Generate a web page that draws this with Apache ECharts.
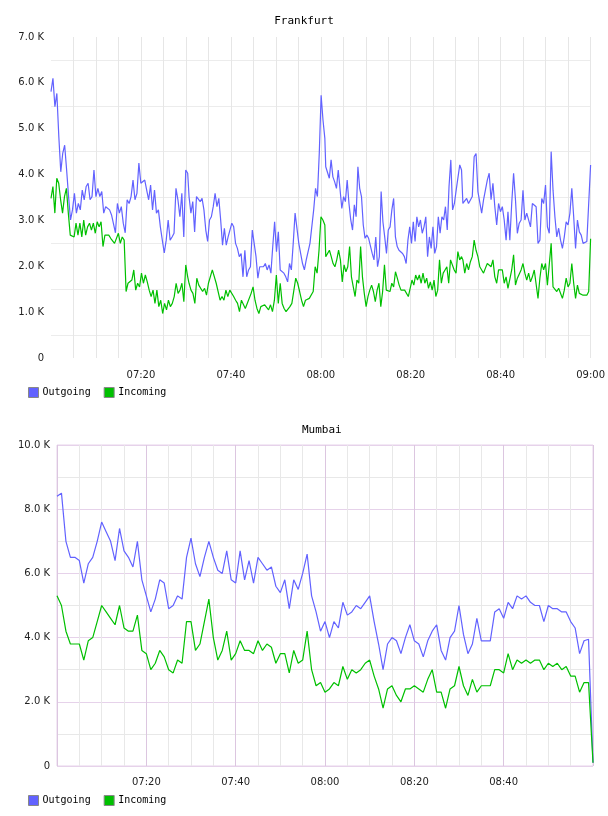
<!DOCTYPE html>
<html>
<head>
<meta charset="utf-8">
<script src="https://cdn.jsdelivr.net/npm/echarts@6/dist/echarts.min.js"></script>
<style>
    html, body { margin: 0; padding: 0; background: #fff; }
    #main { width: 608px; height: 816px; }
</style>
</head>
<body>
<div id="main"></div>
<script>
// traffic, in thousands, 07:00 - 09:00 (minutes from 07:00 on the x axis)
var seriesNames = ['Outgoing', 'Incoming'];
var spanMin = 120;

var pieceStart = [0, 30.7, 61.1, 91.6];
var pieceEnd = [30.4, 60.9, 91.3, 120];

var frankfurtOut1 = [
    5.81, 6.10, 5.48, 5.77, 4.83, 4.06, 4.46, 4.64, 4.10, 3.52, 3.01, 3.23, 3.59, 3.16, 3.37, 3.23, 3.66, 3.45, 3.74, 3.81,
    3.45, 3.52, 4.10, 3.52, 3.70, 3.52, 3.63, 3.16, 3.30, 3.30, 3.23, 3.12, 3.12, 2.73, 3.37, 3.16, 3.30, 2.94, 2.73, 3.45,
    3.37, 3.52, 3.88, 3.45, 3.59, 4.25, 3.81, 3.81, 3.88, 3.66, 3.45, 3.77, 3.23, 3.66, 3.16, 3.23, 2.86, 2.57, 2.29, 2.57,
    3.01, 2.57, 2.64, 2.72, 3.70, 3.45, 3.08, 3.59, 2.64, 4.10, 4.03
];
var frankfurtOut2 = [
    3.52, 3.16, 3.41, 2.75, 3.52, 3.55, 3.41, 3.48, 3.23, 2.79, 2.54, 3.01, 3.08, 3.30, 3.59, 3.30, 3.48, 3.01, 2.46, 2.83,
    2.46, 2.64, 2.61, 2.94, 2.86, 2.50, 2.39, 2.21, 2.28, 1.77, 2.35, 1.77, 1.92, 1.99, 2.79, 2.79, 2.21, 1.74, 1.99, 1.99,
    1.99, 2.06, 1.92, 2.03, 1.85, 2.43, 2.97, 2.32, 2.75, 1.92, 1.92, 1.85, 1.77, 1.66, 2.06, 1.92, 2.50, 3.16, 3.12, 2.50,
    2.50, 2.06, 1.92, 2.14, 2.17, 2.50, 2.50, 3.23, 3.70, 3.52, 4.46, 5.73, 5.19, 4.79
];
var frankfurtOut3 = [
    4.17, 4.17, 3.92, 4.32, 3.95, 3.84, 3.70, 4.10, 4.06, 3.26, 3.52, 3.41, 3.88, 3.37, 3.01, 2.79, 3.34, 3.08, 4.17, 3.70,
    3.52, 2.90, 2.61, 2.68, 2.61, 2.57, 2.28, 2.14, 2.64, 1.99, 2.21, 3.63, 2.97, 2.64, 2.28, 2.79, 2.86, 3.23, 3.48, 2.64,
    2.43, 2.35, 2.32, 2.28, 2.21, 2.06, 2.57, 2.86, 2.50, 2.97, 2.54, 3.08, 2.86, 3.01, 2.72, 2.86, 3.08, 2.21, 2.64, 2.39,
    2.86, 2.28, 2.43, 3.08, 2.72, 3.08, 3.01, 3.30, 2.79, 3.74, 4.32, 3.23, 3.37, 3.66, 3.70, 4.21, 4.10
];
var frankfurtOut4 = [
    3.37, 3.34, 3.48, 3.37, 3.37, 3.52, 4.39, 4.46, 3.63, 3.59, 3.16, 3.45, 3.41, 3.88, 4.03, 3.45, 3.81, 3.30, 2.90, 3.37,
    3.19, 3.30, 3.01, 2.57, 3.19, 2.57, 3.37, 4.03, 3.45, 2.72, 2.94, 3.01, 3.66, 3.01, 3.16, 3.16, 2.86, 3.37, 3.37, 3.30,
    2.50, 2.57, 3.48, 3.37, 3.77, 2.86, 2.72, 4.50, 3.66, 3.08, 2.64, 2.83, 2.57, 2.39, 2.64, 2.97, 2.90, 3.16, 3.70, 3.08,
    2.39, 3.01, 2.75, 2.68, 2.50, 2.46, 2.54, 2.54, 4.21
];

var frankfurtIn1 = [
    3.48, 3.74, 3.16, 3.92, 3.81, 3.45, 3.16, 3.52, 3.70, 3.16, 2.68, 2.72, 2.64, 2.94, 2.68, 2.94, 2.64, 3.01, 2.68, 2.86,
    2.94, 2.79, 2.94, 2.72, 2.97, 2.86, 2.97, 2.43, 2.68, 2.64, 2.68, 2.61, 2.57, 2.50, 2.46, 2.72, 2.50, 2.64, 2.57, 1.45,
    1.63, 1.59, 1.70, 1.92, 1.48, 1.63, 1.55, 1.85, 1.63, 1.81, 1.66, 1.48, 1.34, 1.48, 1.19, 1.48, 1.12, 1.26, 0.97, 1.19,
    1.05, 1.26, 1.12, 1.19, 1.34, 1.63, 1.41, 1.48, 1.63, 1.23, 2.03, 1.77
];
var frankfurtIn2 = [
    1.63, 1.48, 1.41, 1.19, 1.74, 1.59, 1.63, 1.45, 1.52, 1.37, 1.63, 1.63, 1.92, 1.92, 1.63, 1.59, 1.26, 1.34, 1.26, 1.48,
    1.34, 1.48, 1.48, 1.34, 1.26, 1.19, 1.01, 1.26, 1.30, 1.08, 1.19, 1.19, 1.41, 1.55, 1.26, 1.08, 0.97, 1.12, 1.16, 1.16,
    1.12, 1.05, 1.16, 1.01, 1.26, 1.81, 1.19, 1.63, 1.19, 1.08, 1.01, 1.05, 1.12, 1.19, 1.16, 1.74, 1.63, 1.45, 1.26, 1.12,
    1.26, 1.26, 1.30, 1.30, 1.45, 1.99, 1.85, 2.35, 3.08, 3.01, 2.90
];
var frankfurtIn3 = [
    2.21, 2.17, 2.35, 2.21, 2.06, 1.99, 2.14, 2.35, 2.14, 1.66, 2.03, 1.88, 1.99, 2.43, 1.77, 1.55, 1.34, 1.70, 1.63, 2.43,
    1.77, 1.41, 1.12, 1.34, 1.48, 1.59, 1.45, 1.23, 1.48, 1.63, 1.12, 1.45, 2.03, 1.48, 1.48, 1.45, 1.63, 1.55, 1.88, 1.74,
    1.59, 1.48, 1.52, 1.48, 1.45, 1.34, 1.34, 1.70, 1.59, 1.81, 1.70, 1.81, 1.63, 1.85, 1.63, 1.74, 1.52, 1.66, 1.48, 1.70,
    1.34, 1.48, 2.14, 1.63, 1.85, 1.92, 1.99, 1.63, 2.14, 2.17, 1.92, 1.85, 2.32, 2.14, 2.21
];
var frankfurtIn4 = [
    2.14, 1.85, 2.06, 1.92, 2.10, 2.21, 2.57, 2.35, 2.21, 1.99, 1.92, 1.85, 1.96, 2.06, 2.10, 1.99, 2.14, 1.77, 1.63, 1.92,
    1.92, 1.92, 1.63, 1.77, 1.52, 1.48, 1.92, 2.25, 1.59, 1.74, 1.70, 1.92, 2.06, 1.85, 1.70, 1.85, 1.66, 1.77, 1.92, 1.92,
    1.30, 1.74, 2.06, 1.92, 2.06, 1.59, 1.63, 2.50, 1.55, 1.52, 1.45, 1.52, 1.48, 1.30, 1.48, 1.74, 1.55, 1.63, 2.06, 1.63,
    1.30, 1.59, 1.41, 1.45, 1.37, 1.41, 1.37, 1.45, 2.60
];

// Mumbai: one sample per minute
var mumbaiOut = [
    8.4, 8.5, 7.0, 6.5, 6.5, 6.4, 5.7, 6.3, 6.5, 7.0, 7.6, 7.3, 7.0, 6.4, 7.4, 6.7, 6.5, 6.2, 7.0, 5.8,
    5.3, 4.8, 5.2, 5.8, 5.7, 4.9, 5.0, 5.3, 5.2, 6.5, 7.1, 6.3, 5.9, 6.5, 7.0, 6.5, 6.1, 6.0, 6.7, 5.8,
    5.7, 6.7, 5.8, 6.4, 5.7, 6.5, 6.3, 6.1, 6.2, 5.6, 5.4, 5.8, 4.9, 5.8, 5.5, 6.0, 6.6, 5.3, 4.8, 4.2,
    4.5, 4.0, 4.5, 4.3, 5.1, 4.7, 4.8, 5.0, 4.9, 5.1, 5.3, 4.5, 3.8, 3.0, 3.8, 4.0, 3.9, 3.5, 4.0, 4.4,
    3.9, 3.8, 3.4, 3.9, 4.2, 4.4, 3.6, 3.3, 4.0, 4.2, 5.0, 4.1, 3.5, 3.8, 4.6, 3.9, 3.9, 3.9, 4.8, 4.9,
    4.6, 5.1, 4.9, 5.3, 5.2, 5.3, 5.1, 5.0, 5.0, 4.5, 5.0, 4.9, 4.9, 4.8, 4.8, 4.5, 4.3, 3.5, 3.9, 3.95,
    0.1
];
var mumbaiIn = [
    5.3, 5.0, 4.2, 3.8, 3.8, 3.8, 3.3, 3.9, 4.0, 4.5, 5.0, 4.8, 4.6, 4.4, 5.0, 4.3, 4.2, 4.2, 4.7, 3.6,
    3.5, 3.0, 3.2, 3.6, 3.4, 3.0, 2.9, 3.3, 3.2, 4.5, 4.5, 3.6, 3.8, 4.5, 5.2, 4.0, 3.3, 3.6, 4.2, 3.3,
    3.5, 3.9, 3.6, 3.6, 3.5, 3.9, 3.6, 3.8, 3.7, 3.2, 3.5, 3.5, 2.9, 3.6, 3.2, 3.3, 4.2, 3.0, 2.5, 2.6,
    2.3, 2.4, 2.6, 2.5, 3.1, 2.7, 3.0, 2.9, 3.0, 3.2, 3.3, 2.8, 2.4, 1.8, 2.4, 2.5, 2.2, 2.0, 2.4, 2.4,
    2.5, 2.4, 2.3, 2.7, 3.0, 2.3, 2.3, 1.8, 2.4, 2.5, 3.1, 2.5, 2.2, 2.7, 2.3, 2.5, 2.5, 2.5, 3.0, 3.0,
    2.9, 3.5, 3.0, 3.3, 3.2, 3.3, 3.2, 3.3, 3.3, 3.0, 3.2, 3.1, 3.2, 3.0, 3.1, 2.8, 2.8, 2.3, 2.6, 2.6,
    0.1
];

var blue = '#6262ff', green = '#00c000';
var axisFont = 'DejaVu Sans';
var monoFont = 'DejaVu Sans Mono';

// spread the samples of one piece evenly between its start and end minute
function spread(vals, a, b) {
    var step = (b - a) / (vals.length - 1);
    return vals.map(function (v, i) {
        return [a + i * step, v];
    });
}

function pieces(list) {
    var out = [];
    for (var k = 0; k < list.length; k++)
        out = out.concat(spread(list[k], pieceStart[k], pieceEnd[k]));
    return out;
}

function clock(m) {
    var h = 7 + Math.floor(m / 60);
    var mm = m % 60;
    return (h < 10 ? '0' : '') + h + ':' + (mm < 10 ? '0' : '') + mm;
}

function kLabel(v) {
    if (v === 0) return '0';
    return v.toFixed(1) + ' K';
}

var myChart = echarts.init(document.getElementById('main'));

var titleStyle = { fontFamily: monoFont, fontSize: 11, fontWeight: 'normal', color: '#000' };
var legendBase = {
    left: 23, data: seriesNames, icon: 'rect', itemWidth: 10, itemHeight: 10, itemGap: 13,
    itemStyle: { borderColor: '#888', borderWidth: 1 },
    textStyle: { fontFamily: monoFont, fontSize: 10, color: '#000', padding: [0, 0, 0, -1] }
};

var option = {
    animation: false,
    backgroundColor: '#fff',
    title: [
        { text: 'Frankfurt', left: 'center', top: 11, textStyle: titleStyle },
        { text: 'Mumbai', left: 297, top: 420, textStyle: titleStyle }
    ],
    legend: [
        Object.assign({ top: 382 }, legendBase),
        Object.assign({ top: 790 }, legendBase)
    ],
    grid: [
        { left: 51, right: 16, top: 37, height: 321, show: false },
        { left: 57, right: 15, top: 445, height: 321, show: true, borderColor: '#e6d2ea', borderWidth: 1, backgroundColor: 'transparent' }
    ],
    xAxis: [
        {
            gridIndex: 0, type: 'value', min: 0, max: spanMin, interval: 5,
            axisLine: { show: false }, axisTick: { show: false },
            axisLabel: {
                margin: 12, fontFamily: axisFont, fontSize: 10, color: '#222',
                formatter: function (m) { return (m > 0 && m % 20 === 0) ? clock(m) : ''; }
            },
            splitLine: { show: true, showMinLine: false, lineStyle: { color: '#e6e6e6', width: 1 } }
        },
        {
            gridIndex: 1, type: 'value', min: 0, max: spanMin, interval: 5,
            axisLine: { show: false }, axisTick: { show: false },
            axisLabel: {
                margin: 11, fontFamily: axisFont, fontSize: 10, color: '#222',
                formatter: function (m) { return (m > 0 && m < spanMin && m % 20 === 0) ? clock(m) : ''; }
            },
            splitLine: { show: true, lineStyle: { color: ['#dcc6e0', '#e8e8e8', '#e8e8e8', '#e8e8e8'], width: 1 } }
        }
    ],
    yAxis: [
        {
            gridIndex: 0, type: 'value', min: 0, max: 7, interval: 0.5,
            axisLine: { show: false }, axisTick: { show: false },
            axisLabel: {
                margin: 7, fontFamily: axisFont, fontSize: 10, color: '#222',
                formatter: function (v) { return v % 1 === 0 ? kLabel(v) : ''; }
            },
            splitLine: { show: true, lineStyle: { color: ['rgba(0,0,0,0)', '#ececec'], width: 1 } }
        },
        {
            gridIndex: 1, type: 'value', min: 0, max: 10, interval: 1,
            axisLine: { show: false }, axisTick: { show: false },
            axisLabel: {
                margin: 7, fontFamily: axisFont, fontSize: 10, color: '#222',
                formatter: function (v) { return v % 2 === 0 ? kLabel(v) : ''; }
            },
            splitLine: { show: true, lineStyle: { color: ['#e6d2ea', '#e8e8e8'], width: 1 } }
        }
    ],
    series: [
        {
            name: 'Outgoing', type: 'line', xAxisIndex: 0, yAxisIndex: 0, showSymbol: false, color: blue, lineStyle: { width: 1.2 },
            data: pieces([frankfurtOut1, frankfurtOut2, frankfurtOut3, frankfurtOut4])
        },
        {
            name: 'Incoming', type: 'line', xAxisIndex: 0, yAxisIndex: 0, showSymbol: false, color: green, lineStyle: { width: 1.2 },
            data: pieces([frankfurtIn1, frankfurtIn2, frankfurtIn3, frankfurtIn4])
        },
        {
            name: 'Outgoing', type: 'line', xAxisIndex: 1, yAxisIndex: 1, showSymbol: false, color: blue, lineStyle: { width: 1.2 },
            data: spread(mumbaiOut, 0, spanMin)
        },
        {
            name: 'Incoming', type: 'line', xAxisIndex: 1, yAxisIndex: 1, showSymbol: false, color: green, lineStyle: { width: 1.2 },
            data: spread(mumbaiIn, 0, spanMin)
        }
    ]
};

myChart.setOption(option);
</script>
</body>
</html>
